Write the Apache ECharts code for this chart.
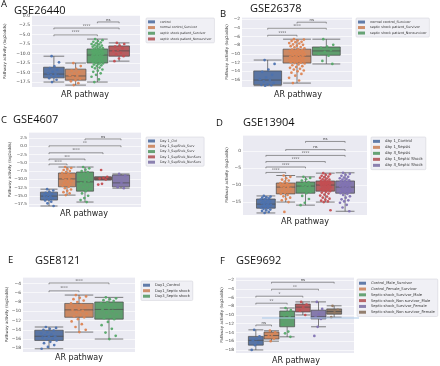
<!DOCTYPE html>
<html>
<head>
<meta charset="utf-8">
<script src="https://cdn.jsdelivr.net/npm/echarts@6/dist/echarts.min.js"></script>
<style>
  html, body { margin: 0; padding: 0; background: #fff; }
  #chart { width: 440px; height: 366px; }
</style>
</head>
<body>
<div id="chart"></div>
<script>
  // ---- data ----
  const aGroups = ['control', 'normal control_Survivor', 'septic shock patient_Survivor', 'septic shock patient_Nonsurvivor'];
  const aBoxes = [[-17.5, -16.4, -15.4, -13.6, -10.7], [-18.3, -17.0, -15.9, -14.1, -12.5], [-17.5, -12.5, -10.4, -8.8, -6.2], [-12.0, -10.7, -9.3, -8.0, -7.2]];
  const aPoints = [
    [-10.7, -12.3, -13.4, -13.8, -14.3, -14.8, -15.2, -15.4, -15.6, -15.9, -16.2, -16.5, -16.9, -17.5],
    [-12.5, -13.3, -14.0, -14.5, -14.9, -15.3, -15.7, -15.9, -16.2, -16.6, -17.0, -17.3, -17.8, -18.3],
    [-6.2, -6.5, -6.7, -6.9, -7.1, -7.3, -7.5, -7.6, -7.8, -7.9, -8.1, -8.2, -8.4, -8.5, -8.6, -8.8,
     -8.9, -9.0, -9.1, -9.2, -9.3, -9.4, -9.5, -9.6, -9.7, -9.8, -9.9, -10.0, -10.1, -10.2, -10.3, -10.4,
     -10.5, -10.6, -10.8, -10.9, -11.0, -11.1, -11.3, -11.4, -11.5, -11.7, -11.8, -11.9, -12.1, -12.2, -12.4, -12.5,
     -12.6, -12.8, -12.9, -13.1, -13.3, -13.5, -13.7, -13.9, -14.2, -14.5, -14.8, -15.2, -15.6, -16.1, -16.8, -17.5],
    [-7.2, -7.5, -7.9, -8.2, -8.6, -9.0, -9.4, -9.8, -10.2, -10.7, -11.3, -12.0]
  ];
  const aBrackets = [[0, 2, -5.1, '****'], [0, 3, -3.3, '****'], [2, 3, -1.7, 'ns']];

  const bGroups = ['normal control_Survivor', 'septic shock patient_Survivor', 'septic shock patient_Nonsurvivor'];
  const bBoxes = [[-17.3, -17.1, -16.0, -13.9, -11.4], [-16.7, -12.1, -10.5, -8.9, -6.6], [-12.3, -10.3, -9.3, -8.4, -6.6]];
  const bPoints = [
    [-11.4, -12.3, -13.6, -14.1, -14.8, -15.4, -15.8, -16.0, -16.3, -16.7, -17.0, -17.1, -17.2, -17.3],
    [-6.6, -6.7, -6.9, -7.0, -7.2, -7.3, -7.5, -7.6, -7.8, -7.9, -8.1, -8.2, -8.4, -8.5, -8.7, -8.9,
     -9.0, -9.1, -9.2, -9.3, -9.4, -9.5, -9.6, -9.7, -9.8, -9.9, -10.0, -10.1, -10.2, -10.3, -10.4, -10.5,
     -10.6, -10.7, -10.8, -10.9, -11.0, -11.1, -11.2, -11.3, -11.4, -11.5, -11.6, -11.7, -11.8, -11.9, -12.0, -12.1,
     -12.2, -12.4, -12.6, -12.8, -13.0, -13.2, -13.4, -13.6, -13.8, -14.0, -14.3, -14.6, -15.0, -15.5, -16.1, -16.7],
    [-6.6, -7.9, -8.3, -8.6, -9.1, -9.5, -10.0, -10.4, -11.6, -12.3]
  ];
  const bBrackets = [[0, 1, -5.7, '****'], [0, 2, -4.1, '****'], [1, 2, -2.7, 'ns']];

  const cGroups = ['Day 1_Ctrl', 'Day 1_SepShck_Surv', 'Day 3_SepShck_Surv', 'Day 1_SepShck_NonSurv', 'Day 3_SepShck_NonSurv'];
  const cBoxes = [[-18.1, -16.3, -15.1, -13.9, -13.0], [-14.8, -12.3, -9.9, -8.1, -6.3], [-16.9, -13.6, -10.8, -7.8, -6.3], [-10.2, -10.2, -9.75, -9.3, -9.3], [-12.7, -12.3, -11.1, -8.7, -8.4]];
  const cPoints = [
    [-13.0, -13.4, -13.8, -14.1, -14.4, -14.7, -15.0, -15.2, -15.5, -15.8, -16.1, -16.4, -16.8, -17.3, -18.1],
    [-6.3, -6.6, -6.9, -7.2, -7.5, -7.8, -8.1, -8.4, -8.7, -9.0, -9.3, -9.6, -9.9, -10.2, -10.5, -10.8, -11.1, -11.4, -11.7, -12.0, -12.3, -12.7, -13.1, -13.5, -13.9, -14.3, -14.8],
    [-6.3, -6.7, -7.1, -7.5, -7.8, -8.3, -8.8, -9.4, -10.0, -10.5, -10.8, -11.2, -11.8, -12.4, -13.0, -13.6, -14.3, -15.0, -15.7, -16.3, -16.9],
    [-7.2, -9.3, -9.6, -9.8, -10.1, -11.4, -11.6],
    [-8.4, -8.9, -11.1, -12.4, -12.7]
  ];
  const cBrackets = [[0, 1, -5.4, '****'], [0, 2, -3.9, '***'], [0, 3, -2.0, '****'], [0, 4, 0.1, '**'], [2, 4, 2.2, 'ns']];

  const dGroups = ['day 1_Control', 'day 1_Sepsis', 'day 3_Sepsis', 'day 1_Septic Shock', 'day 3_Septic Shock'];
  const dBoxes = [[-18.2, -16.8, -15.6, -14.1, -13.2], [-15.0, -12.6, -10.6, -9.4, -7.2], [-15.9, -12.4, -10.3, -9.1, -7.6], [-15.0, -11.8, -10.0, -8.8, -6.5], [-17.7, -12.4, -10.6, -8.8, -6.4]];
  const dPoints = [
    [-13.2, -13.4, -13.6, -13.7, -13.9, -14.1, -14.3, -14.5, -14.7, -14.9, -15.1, -15.3, -15.5, -15.6, -15.8, -15.9, -16.1, -16.2, -16.4, -16.6, -16.8, -17.0, -17.2, -17.4, -17.6, -17.9, -18.2],
    [-7.2, -7.6, -8.0, -8.4, -8.7, -9.0, -9.4, -9.6, -9.8, -10.0, -10.2, -10.4, -10.6, -10.8, -11.1, -11.4, -11.7, -12.0, -12.3, -12.6, -12.9, -13.3, -13.7, -14.1, -14.5, -15.0, -17.9],
    [-7.6, -7.9, -8.3, -8.7, -9.1, -9.4, -9.7, -9.9, -10.1, -10.3, -10.5, -10.8, -11.2, -11.6, -12.0, -12.4, -13.2, -14.1, -15.2, -15.9],
    [-6.5, -6.8, -7.0, -7.3, -7.5, -7.7, -7.9, -8.1, -8.3, -8.4, -8.6, -8.8,
     -8.9, -9.0, -9.1, -9.2, -9.3, -9.4, -9.5, -9.6, -9.7, -9.8, -9.9, -10.0,
     -10.1, -10.3, -10.4, -10.6, -10.7, -10.9, -11.0, -11.2, -11.3, -11.5, -11.6, -11.8,
     -12.0, -12.2, -12.5, -12.8, -13.1, -13.4, -13.7, -14.0, -14.3, -14.6, -14.8, -15.0, -17.4],
    [-6.4, -6.7, -7.0, -7.3, -7.6, -7.8, -8.0, -8.2, -8.4, -8.6, -8.8,
     -8.9, -9.1, -9.3, -9.5, -9.7, -9.8, -10.0, -10.1, -10.3, -10.4, -10.6,
     -10.7, -10.9, -11.1, -11.3, -11.5, -11.6, -11.8, -11.9, -12.1, -12.2, -12.4,
     -12.6, -12.9, -13.3, -13.7, -14.2, -14.5, -14.8, -15.2, -15.8, -16.6, -17.7]
  ];
  const dBrackets = [[0, 1, -6.3, '****'], [0, 2, -4.7, '****'], [0, 3, -3.1, '****'], [0, 4, -1.3, '****'], [1, 4, 0.4, 'ns'], [2, 4, 2.8, 'ns']];

  const eGroups = ['Day1_Control', 'Day1_Septic shock', 'Day3_Septic shock'];
  const eBoxes = [[-18.1, -16.3, -15.4, -14.1, -13.4], [-14.5, -11.3, -9.7, -8.3, -6.5], [-16.0, -11.7, -9.6, -8.0, -7.0]];
  const ePoints = [
    [-13.4, -13.6, -13.8, -14.0, -14.2, -14.5, -14.8, -15.0, -15.2, -15.4, -15.5, -15.7, -15.9, -16.1, -16.3, -16.6, -16.9, -17.3, -17.7, -18.1],
    [-6.5, -6.8, -7.1, -7.4, -7.7, -8.0, -8.3, -8.6, -8.9, -9.2, -9.5, -9.7, -9.9, -10.2, -10.5, -10.8, -11.1, -11.3, -11.7, -12.2, -12.8, -13.4, -14.0, -14.5],
    [-7.0, -7.2, -7.4, -7.6, -7.8, -8.0, -8.3, -8.6, -8.9, -9.2, -9.4, -9.6, -9.9, -10.3, -10.7, -11.1, -11.5, -11.7, -12.3, -13.0, -13.8, -14.6, -15.3, -16.0]
  ];
  const eBrackets = [[0, 1, -5.6, '****'], [0, 2, -3.9, '****']];

  const fGroups = ['Control_Male_Survivor', 'Control_Female_Survivor', 'Septic shock_Survivor_Male', 'Septic shock_Non survivor_Male', 'Septic shock_Survivor_Female', 'Septic shock_Non survivor_Female'];
  const fBoxes = [[-18.0, -16.9, -15.8, -14.9, -13.4], [-16.0, -15.5, -14.7, -13.9, -13.6], [-15.0, -12.7, -10.4, -9.1, -8.4], [-10.0, -9.3, -8.2, -7.5, -7.0], [-12.7, -10.9, -10.4, -8.9, -7.0], [-10.5, -9.8, -9.2, -8.6, -7.9]];
  const fPoints = [
    [-13.4, -14.9, -15.5, -15.8, -16.3, -16.9, -18.0],
    [-13.6, -14.0, -14.5, -14.9, -15.4, -16.0],
    [-8.4, -8.9, -9.5, -10.1, -10.4, -11.0, -12.2, -13.8, -14.2, -15.0],
    [-7.0, -7.6, -8.2, -9.0, -10.0],
    [-7.0, -8.6, -9.8, -10.4, -10.9, -12.7, -14.8],
    [-7.9, -8.8, -9.4, -10.5]
  ];
  const fBrackets = [[0, 1, -12.3, 'ns'], [0, 2, -7.3, '**'], [0, 3, -5.7, '*'], [1, 4, -4.1, '**'], [1, 5, -2.5, 'ns']];

  // ---- styling / layout ----
  const PAL = ['#4c72b0', '#dd8452', '#55a868', '#c44e52', '#8172b3', '#937860'];
  const BOXPAL = ['#5975a4', '#cc8963', '#5f9e6e', '#b55d60', '#857aab', '#8d7866'];
  const FONT = 'DejaVu Sans';
  const TFONT = 'Open Sans';

  const panels = [
    {letter: 'A', title: 'GSE26440', groups: aGroups, boxes: aBoxes, points: aPoints, brackets: aBrackets,
     y: [-18.8, 0], step: 2.5, dec: 1, bg: [32, 15.5, 108, 71.5], inner: [43, 87], ylab: 5, tick: 4.5,
     lg: [146, 18, 3.1, 5.7], let: [1, 4.5], tit: [14, 11], xn: [85, 95]},
    {letter: 'B', title: 'GSE26378', groups: bGroups, boxes: bBoxes, points: bPoints, brackets: bBrackets,
     y: [-17.6, -1.5], step: 2, dec: 0, bg: [242, 17, 110, 70], inner: [253, 88], ylab: 227, tick: 4.3,
     lg: [356, 18, 3.4, 5.5], let: [220, 14.5], tit: [250, 8.5], xn: [298, 95]},
    {letter: 'C', title: 'GSE4607', groups: cGroups, boxes: cBoxes, points: cPoints, brackets: cBrackets,
     y: [-18.4, 4.3], step: 2.5, dec: 1, bg: [29, 132, 112, 75], inner: [40, 90], ylab: 10, tick: 4.2,
     lg: [146, 137, 3.3, 5.3], let: [1, 120], tit: [13, 120], xn: [84, 214]},
    {letter: 'D', title: 'GSE13904', groups: dGroups, boxes: dBoxes, points: dPoints, brackets: dBrackets,
     y: [-18.8, 4.7], step: 5, dec: 0, bg: [243, 135, 124, 80], inner: [256, 99], ylab: 227, tick: 4.4,
     lg: [371, 137, 3.9, 6], let: [216, 123], tit: [243, 123], xn: [305, 222]},
    {letter: 'E', title: 'GSE8121', groups: eGroups, boxes: eBoxes, points: ePoints, brackets: eBrackets,
     y: [-18.8, -2.6], step: 2, dec: 0, bg: [23, 277, 112, 75], inner: [34, 90], ylab: 7, tick: 4.4,
     lg: [141, 281, 3.7, 5.5], let: [8, 260.5], tit: [35, 260.5], xn: [79, 358]},
    {letter: 'F', title: 'GSE9692', groups: fGroups, boxes: fBoxes, points: fPoints, brackets: fBrackets,
     y: [-18.7, -1.3], step: 2, dec: 0, bg: [236, 277, 118, 76], inner: [248, 94], ylab: 222, tick: 4.3,
     lg: [357, 279, 3.7, 5.8], let: [220, 261], tit: [236, 261], xn: [296, 361]}
  ];

  function jitter(k) {
    return ((k * 0.618034 + 0.31) % 1 - 0.5) * 0.55;
  }

  const chart = echarts.init(document.getElementById('chart'));
  const grid = [], xAxis = [], yAxis = [], series = [], legend = [], graphic = [];

  panels.forEach((p, k) => {
    const n = p.groups.length;
    const [gl, gt, gw, gh] = p.bg;
    grid.push({left: gl, top: gt, width: gw, height: gh, show: true, backgroundColor: '#eaeaf2', borderWidth: 0});
    grid.push({left: p.inner[0], top: gt, width: p.inner[1], height: gh, show: false});

    xAxis.push({gridIndex: 2 * k, type: 'value', min: 0, max: 1, show: false});
    xAxis.push({gridIndex: 2 * k + 1, type: 'category', data: p.groups.map((g, i) => String(i)), show: false});
    xAxis.push({gridIndex: 2 * k + 1, type: 'value', min: -0.5, max: n - 0.5, show: false, position: 'top'});

    const step = p.step;
    yAxis.push({
      gridIndex: 2 * k, type: 'value', min: p.y[0], max: p.y[1], minInterval: step, maxInterval: step,
      axisLine: {show: false}, axisTick: {show: false},
      splitLine: {lineStyle: {color: '#ffffff', width: 0.6}},
      axisLabel: {
        fontSize: p.tick, fontFamily: FONT, color: '#444', margin: 2,
        formatter: v => {
          const r = v / step;
          if (Math.abs(r - Math.round(r)) > 1e-6) return '';
          return (Math.round(r) * step).toFixed(p.dec).replace('-', '\u2212');
        }
      }
    });
    yAxis.push({gridIndex: 2 * k + 1, type: 'value', min: p.y[0], max: p.y[1], show: false});

    series.push({
      type: 'boxplot', xAxisIndex: 3 * k + 1, yAxisIndex: 2 * k + 1, z: 2,
      boxWidth: ['95%', '95%'],
      data: p.boxes.map((b, i) => ({value: b, itemStyle: {color: BOXPAL[i], borderColor: '#4b4b4b', borderWidth: 0.7}})),
      emphasis: {disabled: true}
    });

    p.points.forEach((vals, i) => {
      series.push({
        type: 'scatter', name: p.groups[i], xAxisIndex: 3 * k + 2, yAxisIndex: 2 * k + 1, z: 3,
        symbolSize: 2.7, itemStyle: {color: PAL[i], opacity: 0.95},
        data: vals.map((v, j) => [i + jitter(j), v]),
        emphasis: {disabled: true}
      });
    });

    const br = p.brackets;
    series.push({
      type: 'custom', xAxisIndex: 3 * k + 2, yAxisIndex: 2 * k + 1, z: 4, clip: false,
      data: br.map(b => [b[0], b[1], b[2]]),
      renderItem: (params, api) => {
        const a = api.coord([api.value(0), api.value(2)]);
        const b = api.coord([api.value(1), api.value(2)]);
        const d = 1.3;
        return {
          type: 'group', children: [
            {type: 'polyline', shape: {points: [[a[0], a[1] + d], [a[0], a[1]], [b[0], b[1]], [b[0], b[1] + d]]},
             style: {stroke: '#555', lineWidth: 0.6, fill: null}},
            {type: 'text', x: (a[0] + b[0]) / 2, y: a[1] - 0.4,
             style: {text: br[params.dataIndex][3], fontSize: 3.8, fontFamily: FONT, fill: '#333', align: 'center', verticalAlign: 'bottom'}}
          ]
        };
      }
    });

    const [ll, lt, lf, pitch] = p.lg;
    legend.push({
      orient: 'vertical', left: ll, top: lt, icon: 'rect', itemWidth: 7, itemHeight: 3,
      itemGap: pitch - lf * 1.2, selectedMode: false,
      padding: [2, 3, 2, 2], backgroundColor: '#f0f0f5', borderColor: '#cfcfd6', borderWidth: 0.5, borderRadius: 1,
      textStyle: {fontSize: lf, fontFamily: FONT, color: '#333', lineHeight: lf * 1.2},
      data: p.groups.map((g, i) => ({name: g, itemStyle: {color: BOXPAL[i], borderWidth: 0}}))
    });

    graphic.push({type: 'text', x: p.let[0], y: p.let[1],
      style: {text: p.letter, fontSize: 9.5, fontFamily: TFONT, fill: '#111', align: 'left', verticalAlign: 'middle'}});
    graphic.push({type: 'text', x: p.tit[0], y: p.tit[1],
      style: {text: p.title, fontSize: 11, fontFamily: TFONT, fill: '#111', align: 'left', verticalAlign: 'middle'}});
    graphic.push({type: 'text', x: p.xn[0], y: p.xn[1],
      style: {text: 'AR pathway', fontSize: 8, fontFamily: FONT, fill: '#222', align: 'center', verticalAlign: 'middle'}});
    graphic.push({type: 'text', x: p.ylab, y: gt + gh / 2, rotation: Math.PI / 2,
      style: {text: 'Pathway activity (log2odds)', fontSize: 4, fontFamily: FONT, fill: '#333', align: 'center', verticalAlign: 'middle'}});
  });

  // stray light-blue rule crossing panel F in the source figure
  graphic.push({type: 'line', z: 100, shape: {x1: 262, y1: 318, x2: 359, y2: 318},
    style: {stroke: '#a9c9e8', lineWidth: 1}});

  chart.setOption({
    animation: false,
    grid: grid,
    xAxis: xAxis,
    yAxis: yAxis,
    legend: legend,
    graphic: graphic,
    series: series
  });
</script>
</body>
</html>
